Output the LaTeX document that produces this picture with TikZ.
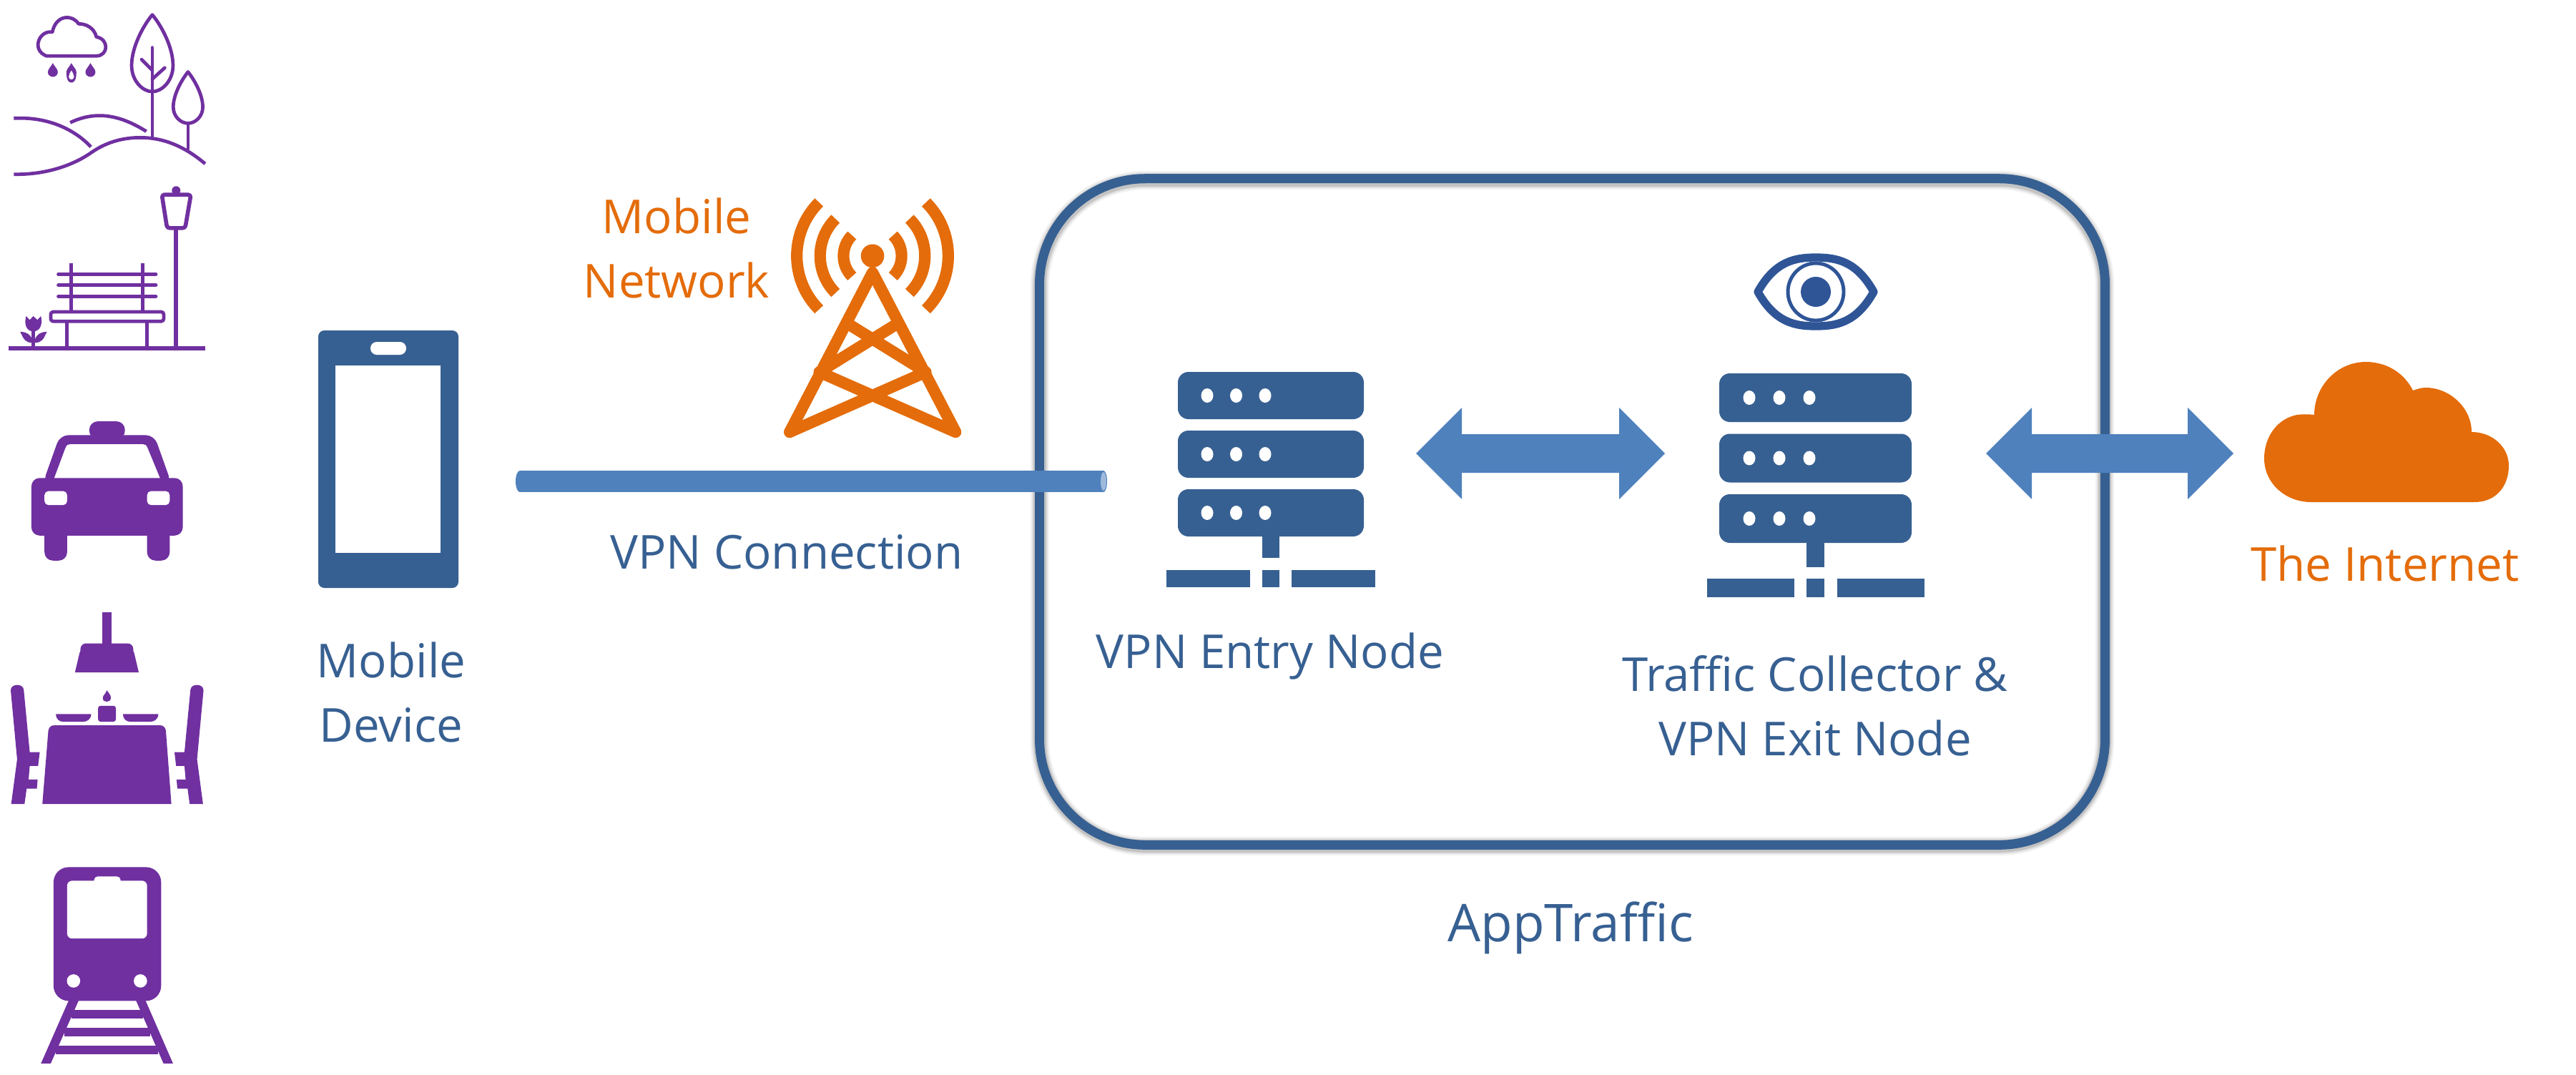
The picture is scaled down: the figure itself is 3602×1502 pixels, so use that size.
\documentclass[tikz,border=0pt]{standalone}
\usepackage{fontspec}
\setmainfont{Open Sans}
\usetikzlibrary{calc}
\definecolor{navy}{HTML}{376092}
\definecolor{eyeblue}{HTML}{2F5597}
\definecolor{arrowblue}{HTML}{4F81BD}
\definecolor{orng}{HTML}{E46C0A}
\definecolor{purp}{HTML}{7030A0}
\tikzset{
  lbl/.style={text=navy,font=\fontsize{18.6}{25.6}\selectfont,align=center,inner sep=0pt},
  olbl/.style={lbl,text=orng},
  srv/.style={fill=navy,rounded corners=4.2pt},
  hole/.style={fill=white},
  parkline/.style={draw=purp,line width=1.35pt,line cap=round,line join=round},
  blockarrow/.style={fill=arrowblue},
  icon/.style={x=0.0033333cm,y=-0.0033333cm},
}
\newcommand{\bidir}[2]{\fill[blockarrow] (#1) -- ++(64,-64) -- ++(0,37) -- ($(#2)+(-64,-27)$) -- ++(0,-37) -- (#2) -- ++(-64,64) -- ++(0,-37) -- ($(#1)+(64,27)$) -- ++(0,37) -- cycle;}
\newcommand{\rack}[7]{% x0 x1 y-first height gap dotx0 dotstep
  \foreach \i in {0,1,2}{
    \pgfmathsetmacro{\yy}{#3+\i*(#4+#5)}
    \pgfmathsetmacro{\yb}{\yy+#4}
    \pgfmathsetmacro{\yc}{\yy+#4/2}
    \fill[srv] (#1,\yy) rectangle (#2,\yb);
    \foreach \k in {0,1,2}{
      \pgfmathsetmacro{\dx}{#6+\k*#7}
      \fill[hole] (\dx,\yc) ellipse [x radius=8.5,y radius=10];
    }
  }
}
\newcommand{\parkdrop}[3]{\fill[purp] (#1,#2) .. controls (#1-8,#2+16) and (#1-21,#2+25) .. (#1-21,#2+38) .. controls (#1-21,#3-8) and (#1-10,#3) .. (#1,#3) .. controls (#1+10,#3) and (#1+21,#3-8) .. (#1+21,#2+38) .. controls (#1+21,#2+25) and (#1+8,#2+16) .. (#1,#2) -- cycle;}
\begin{document}
\begin{tikzpicture}[x=0.01cm,y=-0.01cm]
\useasboundingbox (0,0) rectangle (3602,1502);
\fill[white] (0,0) rectangle (3602,1502);

% ---------- left column icons ----------
\begin{scope}[icon]
  % cloud
  \draw[parkline] (195,235) -- (405,235) .. controls (455,235) and (460,165) .. (405,155) .. controls (395,115) and (360,100) .. (330,100) .. controls (305,60) and (235,60) .. (220,135) .. controls (165,125) and (130,210) .. (195,235) -- cycle;
  \parkdrop{222}{265}{323}
  \parkdrop{300}{265}{347}
  \fill[white] (300,296) .. controls (296,304) and (289,312) .. (289,322) .. controls (289,330) and (294,334) .. (300,334) .. controls (306,334) and (311,330) .. (311,322) .. controls (311,312) and (304,304) .. (300,296) -- cycle;
  \parkdrop{380}{265}{323}
  % trees
  \draw[parkline] (640,62) .. controls (600,110) and (553,200) .. (553,275) .. controls (553,340) and (600,385) .. (640,385) .. controls (680,385) and (727,340) .. (727,275) .. controls (727,200) and (680,110) .. (640,62) -- cycle;
  \draw[parkline] (640,200) -- (640,578);
  \draw[parkline] (595,250) -- (640,295);
  \draw[parkline] (692,285) -- (640,332);
  \draw[parkline] (790,302) .. controls (760,340) and (728,400) .. (728,450) .. controls (728,490) and (760,518) .. (790,518) .. controls (820,518) and (852,490) .. (852,450) .. controls (852,400) and (820,340) .. (790,302) -- cycle;
  \draw[parkline] (790,518) -- (790,625);
  % hills
  \draw[parkline,line cap=butt] (58,497) .. controls (180,490) and (300,530) .. (382,617);
  \draw[parkline,line cap=butt] (295,515) .. controls (400,465) and (500,480) .. (615,552);
  \draw[parkline,line cap=butt] (58,732) .. controls (180,735) and (300,700) .. (385,640) .. controls (450,595) and (520,578) .. (590,578) .. controls (680,578) and (770,610) .. (862,688);
  % bench and lamp
  \draw[parkline,line width=1.7pt,line cap=butt] (37,1462) -- (862,1462);
  \draw[parkline,line width=1.7pt,line cap=butt] (740,960) -- (740,1462);
  \draw[parkline,line width=1.6pt,rounded corners=1pt] (680,818) -- (802,818) -- (778,958) -- (702,958) -- cycle;
  \fill[purp] (740,800) circle [radius=18];
  \draw[parkline,line cap=butt] (300,1105) -- (300,1310);
  \draw[parkline,line cap=butt] (600,1105) -- (600,1310);
  \draw[parkline] (245,1152) -- (655,1152);
  \draw[parkline] (245,1198) -- (655,1198);
  \draw[parkline] (245,1245) -- (655,1245);
  \draw[parkline,rounded corners=1pt] (213,1310) rectangle (688,1350);
  \draw[parkline,line cap=butt] (280,1350) -- (280,1462);
  \draw[parkline,line cap=butt] (618,1350) -- (618,1462);
  % tulip
  \draw[parkline,line cap=butt] (140,1385) -- (140,1462);
  \fill[purp] (110,1328) -- (125,1344) -- (140,1328) -- (157,1344) -- (172,1328) .. controls (180,1360) and (170,1392) .. (140,1392) .. controls (110,1392) and (100,1360) .. (110,1328) -- cycle;
  \fill[purp] (85,1394) .. controls (115,1394) and (135,1410) .. (138,1440) .. controls (105,1440) and (100,1425) .. (85,1394) -- cycle;
  \fill[purp] (197,1394) .. controls (167,1394) and (147,1410) .. (144,1440) .. controls (177,1440) and (182,1425) .. (197,1394) -- cycle;
\end{scope}

\begin{scope}[icon,shift={(0,1500)}]
  % taxi
  \fill[purp,rounded corners=3.4pt] (375,345) -- (375,270) -- (525,270) -- (525,345) -- cycle;
  \fill[purp,rounded corners=3.3pt] (187,700) rectangle (282,855);
  \fill[purp,rounded corners=3.3pt] (618,700) rectangle (713,855);
  \fill[purp,rounded corners=3.4pt] (180,530) -- (252,328) -- (648,328) -- (720,530) -- cycle;
  \fill[purp,rounded corners=3.3pt] (132,508) rectangle (768,750);
  \fill[white] (228,508) -- (275,382) .. controls (280,370) and (285,366) .. (295,366) -- (600,366) .. controls (610,366) and (615,370) .. (620,382) -- (672,508) -- cycle;
  \fill[white,rounded corners=1.6pt] (187,563) rectangle (282,622);
  \fill[white,rounded corners=1.6pt] (618,563) rectangle (713,622);
  % dining lamp
  \fill[purp] (430,1072) rectangle (468,1210);
  \fill[purp,rounded corners=2pt] (335,1265) -- (340,1203) -- (558,1203) -- (563,1265) -- cycle;
  \fill[purp] (315,1325) -- (335,1240) -- (563,1240) -- (583,1325) -- cycle;
\end{scope}

\begin{scope}[icon,shift={(0,3000)}]
  % chairs
  \foreach \m/\o in {1/0,-1/900}{
    \begin{scope}[xscale=\m,shift={(\o*\m,0)}]
      \fill[purp] (45,-100) .. controls (45,-130) and (100,-130) .. (100,-100) -- (125,160) -- (167,160) -- (160,218) -- (125,218) -- (120,275) -- (158,275) -- (155,313) -- (112,313) -- (103,378) -- (47,378) -- (72,190) -- cycle;
    \end{scope}
  }
  % table
  \fill[purp] (178,378) -- (203,70) .. controls (205,55) and (215,47) .. (228,47) -- (672,47) .. controls (685,47) and (695,55) .. (697,70) -- (720,378) -- cycle;
  % plates
  \fill[purp] (235,0) -- (383,0) .. controls (383,22) and (365,32) .. (350,32) -- (265,32) .. controls (250,32) and (235,22) .. (235,0) -- cycle;
  \fill[purp] (517,0) -- (665,0) .. controls (665,22) and (647,32) .. (632,32) -- (547,32) .. controls (532,32) and (517,22) .. (517,0) -- cycle;
  % candle
  \fill[purp,rounded corners=1pt] (412,32) -- (412,-35) -- (487,-35) -- (487,32) -- cycle;
  \fill[purp] (449,-100) .. controls (445,-85) and (432,-80) .. (432,-68) .. controls (432,-56) and (440,-52) .. (449,-52) .. controls (458,-52) and (466,-58) .. (466,-68) .. controls (466,-82) and (455,-90) .. (449,-100) -- cycle;
  % train
  \fill[purp,rounded corners=6pt] (225,643) rectangle (677,1205);
  \fill[white,rounded corners=2pt] (282,700) rectangle (618,943);
  \fill[white,rounded corners=1.5pt] (395,715) -- (395,682) -- (507,682) -- (507,715) -- cycle;
  \fill[white] (309,1121) circle [radius=28];
  \fill[white] (590,1121) circle [radius=28];
  \fill[purp] (290,1200) -- (172,1468) -- (213,1468) -- (332,1200) -- cycle;
  \fill[purp] (570,1200) -- (687,1468) -- (727,1468) -- (610,1200) -- cycle;
  \fill[purp] (300,1243) rectangle (600,1280);
  \fill[purp] (270,1318) rectangle (630,1355);
  \fill[purp] (235,1392) rectangle (665,1430);
\end{scope}

% ---------- mobile device ----------
\fill[navy,rounded corners=2.4pt] (445,462) rectangle (641,822);
\fill[white] (469,511) rectangle (616,773);
\fill[white,rounded corners=2.5pt] (518,478) rectangle (568,496);
\node[lbl] (device) at (547,968) {Mobile\\Device};

% ---------- antenna ----------
\begin{scope}[icon,shift={(3150,690)}]
  \fill[orng] (516,385) circle [radius=49];
  \foreach \r in {122,220,318}{
    \draw[orng,line width=4.6pt] ({516+\r*cos(45)},{385-\r*sin(45)}) arc [start angle=-45,end angle=45,radius=\r];
    \draw[orng,line width=4.6pt] ({516-\r*cos(45)},{385-\r*sin(45)}) arc [start angle=225,end angle=135,radius=\r];
  }
  \draw[orng,line width=4.6pt,line join=round,line cap=round] (168,1125) -- (516,455) -- (865,1125) -- (292,873) -- (607,678);
  \draw[orng,line width=4.6pt,line join=round,line cap=round] (168,1125) -- (740,873) -- (425,678);
\end{scope}
\node[olbl] (mobnet) at (946,347) {Mobile\\Network};

% ---------- AppTraffic box with soft shadow ----------
\foreach \w/\o in {7.5/0.05,6.2/0.08,5/0.12}{
  \draw[black,opacity=\o,line width=\w pt,rounded corners=42pt] (1454,252) rectangle (2943,1183);
}
\node[draw=navy,line width=3.7pt,rounded corners=42pt,minimum width=14.89cm,minimum height=9.31cm,inner sep=0pt] (box) at (2198.5,715.5) {};

% ---------- VPN connection ----------
\coordinate (vpnA) at (727,673);
\coordinate (vpnB) at (1543,673);
\fill[arrowblue] (vpnA) ellipse [x radius=6,y radius=15];
\draw[arrowblue,line width=8.55pt] (vpnA) -- (vpnB);
\fill[arrowblue] (vpnB) ellipse [x radius=5,y radius=15];
\fill[arrowblue!55!white] (vpnB) ellipse [x radius=4,y radius=13];
\node[lbl] (vpnlabel) at (1100,772) {VPN Connection};

% ---------- entry server ----------
\rack{1647}{1907}{520}{66}{16}{1688}{40.5}
\fill[navy] (1765,740) rectangle (1789,780);
\fill[navy] (1631,797) rectangle (1748,821);
\fill[navy] (1765,797) rectangle (1789,821);
\fill[navy] (1806,797) rectangle (1923,821);
\node[lbl] (entry) at (1776,917) {VPN Entry Node};

% ---------- exit server ----------
\rack{2404}{2673}{522}{68}{16.5}{2446}{42}
\fill[navy] (2526,750) rectangle (2551,793);
\fill[navy] (2387,809) rectangle (2509,835);
\fill[navy] (2526,809) rectangle (2551,835);
\fill[navy] (2569,809) rectangle (2691,835);
\node[lbl] (exit) at (2538,987) {Traffic Collector \&\\VPN Exit Node};

% ---------- eye ----------
\draw[eyeblue,line width=3.2pt,fill=white,line join=round] (2458,408) .. controls (2482,365) and (2510,360) .. (2539,360) .. controls (2568,360) and (2596,365) .. (2620,408) .. controls (2596,451) and (2568,456) .. (2539,456) .. controls (2510,456) and (2482,451) .. (2458,408) -- cycle;
\draw[eyeblue,line width=1.4pt,fill=white] (2539,408) ellipse [x radius=39,y radius=40];
\fill[eyeblue] (2539,408) circle [radius=21];

% ---------- block arrows ----------
\coordinate (a1l) at (1980,634);
\coordinate (a1r) at (2328,634);
\coordinate (a2l) at (2777,634);
\coordinate (a2r) at (3123,634);
\bidir{a1l}{a1r}
\bidir{a2l}{a2r}

% ---------- cloud ----------
\fill[orng] (3232,702) -- (3460,702) .. controls (3490,702) and (3508,680) .. (3508,651) .. controls (3508,625) and (3485,604) .. (3456,604) .. controls (3456,570) and (3425,542) .. (3392,542) .. controls (3385,542) and (3380,544) .. (3374,546) .. controls (3362,522) and (3338,506) .. (3308,506) .. controls (3268,506) and (3236,540) .. (3236,580) .. controls (3228,579) and (3220,579) .. (3212,580) .. controls (3185,585) and (3166,610) .. (3166,641) .. controls (3166,675) and (3195,702) .. (3232,702) -- cycle;
\node[olbl] (internet) at (3335,788) {The Internet};

\node[lbl,font=\fontsize{20.7}{28}\selectfont] (apptraffic) at (2196,1297) {AppTraffic};
\end{tikzpicture}
\end{document}
